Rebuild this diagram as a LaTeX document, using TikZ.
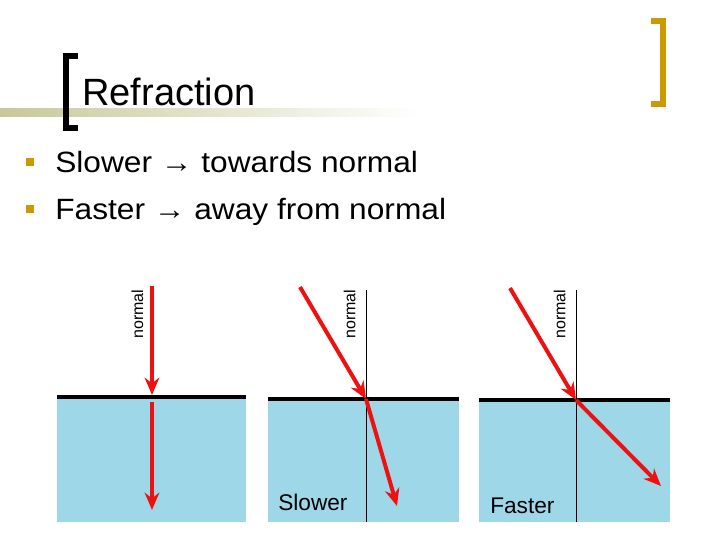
\documentclass[tikz,border=0pt]{standalone}
\usepackage{fontspec}
\setmainfont{Liberation Sans}
\usetikzlibrary{arrows.meta}
\definecolor{gold}{HTML}{CC9900}
\definecolor{band}{HTML}{C8C89A}
\definecolor{water}{HTML}{9ED8E8}
\definecolor{ray}{HTML}{EE1111}
\begin{document}
\begin{tikzpicture}[x=0.75pt,y=-0.75pt,
  raystyle/.style={draw=ray,line width=3pt,-{Stealth[length=13pt,width=11pt]}},
  surf/.style={line width=3.5pt,black},
  water/.style={fill=water,draw=none},
  normtext/.style={rotate=90,font=\fontsize{12}{12}\selectfont,anchor=south east,inner sep=1pt},
  bul/.style={fill=gold,minimum size=6.5pt,inner sep=0pt},
  btext/.style={anchor=base west,font=\fontsize{22}{22}\selectfont,inner sep=0pt}]
\useasboundingbox (0,0) rectangle (720,540);
% title band
\shade[left color=band,right color=white] (0,108) rectangle (420,116);
\draw[line width=5pt] (78,56) -- (66,56) -- (66,128) -- (78,128);
\draw[gold,line width=5pt] (651,21) -- (663,21) -- (663,104) -- (651,104);
\node[anchor=base west,font=\fontsize{28.5}{28.5}\selectfont,inner sep=0pt] (title) at (82,105) {Refraction};
% bullets
\node[bul] (b1) at (30,162) {};
\node[bul] (b2) at (30,209) {};
\node[btext,xscale=1.08] (t1) at (55,172) {Slower → towards normal};
\node[btext,xscale=1.08] (t2) at (55,219) {Faster → away from normal};
% panel 1
\fill[water] (57,398) rectangle (246,522);
\draw[surf] (57,397) -- (246,397);
\coordinate (a1) at (152,286); \coordinate (a2) at (152,395);
\coordinate (a3) at (152,402); \coordinate (a4) at (152,510);
\draw[raystyle] (a1) -- (a2);
\draw[raystyle] (a3) -- (a4);
\node[normtext] (n1) at (145,288) {normal};
% panel 2
\fill[water] (268,400) rectangle (459,522);
\coordinate (p2) at (366,399);
\draw[surf] (268,399) -- (459,399);
\draw[thin] (366,290) -- (366,522);
\node[normtext] (n2) at (357,288) {normal};
\coordinate (i2) at (300,287); \coordinate (r2) at (397,506);
\draw[raystyle] (i2) -- (p2);
\draw[raystyle] (p2) -- (r2);
\node[font=\fontsize{17}{17}\selectfont,anchor=base west,inner sep=0pt] (sl) at (278,510) {Slower};
% panel 3
\fill[water] (479,402) rectangle (670,522);
\coordinate (p3) at (576,400);
\draw[surf] (479,400) -- (670,400);
\draw[thin] (576,290) -- (576,522);
\node[normtext] (n3) at (567,288) {normal};
\coordinate (i3) at (510,288); \coordinate (r3) at (661,486);
\draw[raystyle] (i3) -- (p3);
\draw[raystyle] (p3) -- (r3);
\node[font=\fontsize{17}{17}\selectfont,anchor=base west,inner sep=0pt] (fa) at (490,513) {Faster};
\end{tikzpicture}
\end{document}
